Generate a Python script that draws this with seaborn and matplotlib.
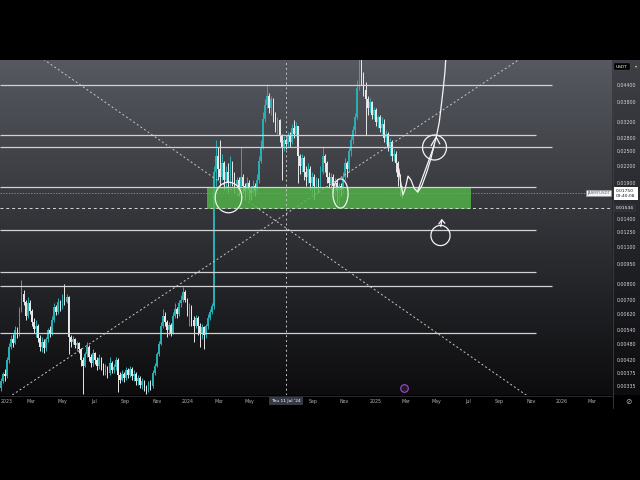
import numpy as np
import matplotlib
matplotlib.use("Agg")
import matplotlib.pyplot as plt
import matplotlib.dates as mdates
from matplotlib.path import Path
from matplotlib.ticker import FixedLocator, FuncFormatter, NullLocator
import seaborn as sns

sns.set_theme(style="dark")
plt.rcParams["font.family"] = ["DejaVu Sans"]

# ---------------- JASMY/USDT, 4-day candles from 2023-01-01 ----------------
START = np.datetime64("2023-01-01")
STEP_DAYS = 4
UNIT = 1e-5          # candle prices below are in 1e-5 USDT
first_open = 330

close = [
    350, 372, 365, 420, 470, 500, 485, 540, 520, 640,
    740, 690, 610, 680, 640, 580, 545, 560, 505, 470,
    490, 465, 500, 540, 525, 590, 660, 630, 690, 660,
    720, 690, 720, 510, 490, 500, 475, 485, 460, 420,
    400, 440, 470, 430, 410, 445, 420, 400, 425, 405,
    380, 395, 375, 410, 385, 395, 420, 370, 355, 372,
    360, 385, 370, 390, 365, 372, 350, 360, 340, 350,
    332, 325, 345, 335, 375, 400, 440, 480, 560, 610,
    580, 540, 565, 530, 610, 650, 620, 680, 700, 750,
    700, 640, 660, 590, 560, 600, 560, 530, 555, 520,
    560, 600, 630, 665, 2100, 2400, 2150, 2000, 2250, 1950,
    2100, 1900, 2200, 2000, 1850, 1950, 1800, 2000, 1850, 1780,
    1900, 1800, 1750, 1850, 1780, 1950, 2300, 2600, 3300, 3700,
    4000, 3600, 3900, 3400, 3100, 3250, 2850, 2600, 2750, 2650,
    2850, 2700, 3050, 2900, 3100, 2400, 2200, 2350, 2100, 2000,
    2150, 1900, 2000, 1850, 1950, 1850, 2100, 2400, 2250, 2000,
    1900, 2000, 1850, 1900, 1780, 1850, 1800, 2000, 2250, 2150,
    2500, 2750, 3000, 3350, 4300, 5200, 4700, 4200, 3900, 3600,
    3800, 3400, 3550, 3200, 3350, 3050, 3150, 2800, 2900, 2600,
    2700, 2400, 2450, 2250, 2000, 1800, 1750,
]
high = [
    360, 380, 390, 430, 485, 520, 525, 560, 555, 660,
    830, 760, 700, 720, 700, 650, 600, 590, 570, 520,
    510, 500, 510, 550, 560, 610, 680, 670, 710, 700,
    740, 800, 740, 725, 520, 515, 505, 495, 490, 465,
    430, 450, 490, 475, 440, 460, 450, 430, 440, 430,
    410, 405, 400, 430, 415, 405, 430, 425, 380, 385,
    378, 395, 392, 400, 395, 385, 378, 370, 365, 360,
    355, 340, 352, 355, 385, 410, 450, 495, 580, 650,
    630, 590, 580, 575, 630, 680, 660, 700, 730, 780,
    760, 710, 680, 670, 610, 615, 610, 575, 570, 560,
    570, 620, 650, 680, 2200, 2750, 2600, 2750, 2450, 2300,
    2200, 2250, 2400, 2300, 2100, 2000, 2000, 2600, 2050, 1900,
    2000, 1950, 1850, 1950, 1900, 2050, 2400, 2750, 3500, 3900,
    4450, 4100, 4000, 3950, 3500, 3350, 3300, 2900, 2850, 2800,
    2950, 2950, 3150, 3250, 3200, 3100, 2450, 2450, 2400, 2200,
    2250, 2200, 2100, 2050, 2000, 1980, 2200, 2600, 2450, 2300,
    2100, 2080, 2050, 1980, 1950, 1900, 1900, 2100, 2350, 2300,
    2600, 2850, 3100, 3450, 4600, 5600, 5600, 4900, 4500, 4000,
    3950, 3850, 3650, 3600, 3400, 3400, 3350, 3300, 3000, 2950,
    2800, 2750, 2550, 2500, 2300, 2050, 1850,
]
low = [
    322, 345, 352, 360, 410, 460, 470, 480, 505, 515,
    630, 670, 590, 600, 620, 560, 530, 510, 490, 455,
    450, 445, 455, 490, 510, 520, 580, 615, 620, 640,
    650, 670, 680, 440, 470, 480, 465, 455, 445, 400,
    315, 395, 430, 415, 395, 400, 405, 385, 390, 385,
    370, 370, 360, 370, 375, 375, 385, 320, 345, 350,
    348, 355, 360, 362, 355, 352, 340, 338, 330, 328,
    322, 313, 318, 325, 330, 370, 395, 435, 475, 550,
    560, 510, 520, 515, 525, 600, 600, 610, 660, 690,
    690, 610, 560, 560, 490, 550, 520, 470, 500, 460,
    505, 545, 590, 620, 650, 1850, 1950, 1850, 1950, 1800,
    1800, 1750, 1850, 1850, 1750, 1700, 1700, 1780, 1750, 1680,
    1720, 1650, 1640, 1700, 1700, 1750, 1900, 2250, 2550, 3200,
    3600, 3450, 3400, 3200, 2950, 2900, 2700, 1950, 2500, 2550,
    2600, 2600, 2650, 2800, 2850, 1900, 2050, 2100, 1950, 1850,
    1900, 1800, 1700, 1650, 1800, 1750, 1820, 2050, 2100, 1900,
    1820, 1800, 1750, 1700, 1600, 1560, 1700, 1750, 1950, 2000,
    2100, 2400, 2650, 2900, 3300, 4200, 4400, 4000, 2870, 3400,
    3500, 3300, 3300, 3100, 3050, 2950, 2900, 2700, 2650, 2500,
    2400, 2300, 2300, 2100, 1850, 1700, 1680,
]
assert len(close) == len(high) == len(low)

# price scale ticks (USDT)
price_ticks = [0.044, 0.038, 0.032, 0.028, 0.025, 0.022, 0.019, 0.014, 0.0125,
               0.011, 0.0095, 0.008, 0.007, 0.0062, 0.0054, 0.0048, 0.0042,
               0.00375, 0.00335]
last_price = 0.01750
cursor_price = 0.01534
cursor_date = "2024-07-11"

# time axis labels
time_ticks = ["2023-01-01", "2023-03-01", "2023-05-01", "2023-07-01", "2023-09-01",
              "2023-11-01", "2024-01-01", "2024-03-01", "2024-05-01", "2024-09-01",
              "2024-11-01", "2025-01-01", "2025-03-01", "2025-05-01", "2025-07-01",
              "2025-09-01", "2025-11-01", "2026-01-01", "2026-03-01"]
time_labels = ["2023", "Mar", "May", "Jul", "Sep", "Nov", "2024", "Mar", "May",
               "Sep", "Nov", "2025", "Mar", "May", "Jul", "Sep", "Nov", "2026", "Mar"]

# horizontal levels and the date each ray ends
level_prices = [0.0440, 0.0287, 0.0258, 0.0184, 0.0127, 0.0089, 0.0079, 0.0053]
level_ends = ["2025-12-12", "2025-11-11", "2025-12-12", "2025-11-11",
              "2025-11-11", "2025-11-11", "2025-12-12", "2025-11-11"]

# support zone
zone_dates = ["2024-02-07", "2025-07-07"]
zone_prices = [0.0153, 0.0184]

# crossing trend lines (date, price) end points
trend_down = (["2023-03-18", "2025-10-29"], [0.0560, 0.00305])
trend_up = (["2023-01-16", "2025-10-17"], [0.00305, 0.0560])

# hand-drawn path: days after 2023-01-01, price
wave_days = [777, 781, 785, 789, 795, 801, 807, 814, 822, 832, 840, 846, 850]
wave_price = [0.0215, 0.0190, 0.0172, 0.0180, 0.0202, 0.0195, 0.0182, 0.0176,
              0.0186, 0.0210, 0.0236, 0.0264, 0.0280]
shaft_days = [814, 846]
shaft_price = [0.0178, 0.0262]
head_days = [840, 850, 857]
head_price = [0.0262, 0.0282, 0.0266]
rocket_days = [850, 856, 860, 864, 867, 869]
rocket_price = [0.0280, 0.0320, 0.0370, 0.0430, 0.0490, 0.0560]
small_head_days = [855, 861, 867]
small_head_price = [0.01342, 0.01390, 0.01350]
small_shaft_days = [861, 859]
small_shaft_price = [0.01390, 0.01310]
# loops: day, price, width/height ratio, size (pt)
loops = [(443, 0.01689, 0.87, 22), (662, 0.01754, 0.52, 21),
         (846, 0.02590, 0.96, 18), (857, 0.01221, 0.95, 14.5)]

# ---------------------------------------------------------------------------
t0 = mdates.date2num(START)


def dnum(s):
    return mdates.date2num(np.datetime64(s))


n = len(close)
x = t0 + STEP_DAYS * np.arange(n)
c = np.array(close) * UNIT
h = np.array(high) * UNIT
l = np.array(low) * UNIT
o = np.concatenate([[first_open * UNIT], c[:-1]])
UP, DOWN = "#26b0b4", "#e8e8e8"
cols = np.where(c >= o, UP, DOWN)

fig = plt.figure(figsize=(6.4, 4.8), dpi=100, facecolor="black")

# gradient backdrop for the chart pane and the price scale
H_PX, W_PX, SPLIT = 335, 640, 612
tt = np.linspace(0, 1, H_PX)[:, None]
chart_col = (np.array([86, 89, 96]) * (1 - tt) + np.array([12, 12, 14]) * tt) / 255
panel_col = (np.array([62, 64, 70]) * (1 - tt) + np.array([12, 12, 14]) * tt) / 255
img = np.empty((H_PX, W_PX, 3))
img[:, :SPLIT] = chart_col[:, None, :]
img[:, SPLIT:] = panel_col[:, None, :]
bg = fig.add_axes([0, 1 - 395 / 480, 1, 335 / 480], zorder=0)
bg.imshow(img, aspect="auto", extent=(0, 1, 0, 1), interpolation="bilinear")
bg.set_axis_off()

ax = fig.add_axes([0, 1 - 395 / 480, SPLIT / 640, 335 / 480], zorder=1)
ax.set_facecolor("none")
ax.set_yscale("log")
x_lo, x_hi = t0 - 1.95, t0 + 1193.4
ax.set_xlim(x_lo, x_hi)
ax.set_ylim(0.003111, 0.05448)
ax.grid(False)
for sp in ax.spines.values():
    sp.set_visible(False)

# candles
ax.vlines(x, l, h, colors=cols, lw=0.7, zorder=3)
ax.bar(x, np.abs(c - o), bottom=np.minimum(o, c), width=3.3, color=cols,
       linewidth=0, zorder=3)

# last price and cursor lines
ax.axhline(last_price, color="#a0a0a0", lw=0.5, ls=(0, (2, 2)), zorder=2)
ax.axhline(cursor_price, color="#d6d6d6", lw=0.7, ls=(0, (3, 3)), zorder=8)
ax.axvline(dnum(cursor_date), color="#c4c4c4", lw=0.7, ls=(0, (2, 3)), zorder=8)

# trend lines
for dates, prices in (trend_down, trend_up):
    ax.plot([dnum(d) for d in dates], prices, color="#c8c8c8", lw=0.7,
            ls=(0, (2, 2.5)), zorder=4)

# support zone
ax.fill_between([dnum(d) for d in zone_dates], zone_prices[0], zone_prices[1],
                color="#52b548", alpha=0.82, lw=0, zorder=5)

# levels
ax.hlines(level_prices, x_lo, [dnum(d) for d in level_ends], colors="#d2d2d2",
          lw=0.9, zorder=6)

# hand-drawn marks
pen = dict(color="#f4f4f4", lw=0.9, sort=False, estimator=None, ax=ax,
           zorder=7, legend=False)
for dd, pp in ((wave_days, wave_price), (shaft_days, shaft_price),
               (head_days, head_price), (rocket_days, rocket_price),
               (small_head_days, small_head_price),
               (small_shaft_days, small_shaft_price)):
    sns.lineplot(x=t0 + np.array(dd), y=pp, **pen)


def loop_marker(ratio):
    a = np.linspace(0, 2 * np.pi, 64)
    return Path(np.column_stack([ratio * np.cos(a), np.sin(a)]))


for dd, pp, ratio, size in loops:
    ax.plot(t0 + dd, pp, marker=loop_marker(ratio), ms=size, mfc="none",
            mec="#f4f4f4", mew=0.9, ls="none", zorder=7)

# event marker near the time axis
ax.plot(t0 + 787, 0.0033, marker="o", ms=5.5, mfc="#241630", mec="#9b4dca",
        mew=0.8, zorder=9, clip_on=False)

# axes ticks
ax.yaxis.tick_right()
ax.yaxis.set_major_locator(FixedLocator(price_ticks))
ax.yaxis.set_minor_locator(NullLocator())
ax.yaxis.set_major_formatter(FuncFormatter(lambda v, _: f"{v:.5f}"))
ax.set_xticks([dnum(d) for d in time_ticks])
ax.set_xticklabels(time_labels)
ax.tick_params(axis="y", which="both", length=0, pad=3.6, labelsize=3.4,
               labelcolor="#d1d4dc")
ax.tick_params(axis="x", length=0, pad=3.0, labelsize=3.4, labelcolor="#b2b5be")
# the first year label sits at the left edge; keep it inside the frame
ax.get_xticklabels()[0].set_horizontalalignment("left")

# price-scale labels
ytr = ax.get_yaxis_transform()
ax.annotate("0.01750\n09:40:08", xy=(1, last_price), xycoords=ytr,
            xytext=(3.0, 2.8), textcoords="offset points", ha="left", va="top",
            fontsize=3.2, color="#131722", linespacing=1.35,
            bbox=dict(boxstyle="square,pad=0.5", fc="white", ec="none"),
            annotation_clip=False, zorder=10)
ax.annotate("JASMYUSDT", xy=(1, last_price), xycoords=ytr, xytext=(-1.5, 0),
            textcoords="offset points", ha="right", va="center", fontsize=2.9,
            color="#5d606b",
            bbox=dict(boxstyle="square,pad=0.3", fc="#f2f3f5", ec="#9598a1", lw=0.4),
            annotation_clip=False, zorder=10)
ax.annotate("0.01534", xy=(1, cursor_price), xycoords=ytr, xytext=(3.0, 0),
            textcoords="offset points", ha="left", va="center", fontsize=3.2,
            color="white",
            bbox=dict(boxstyle="square,pad=0.45", fc="#2e3139", ec="none"),
            annotation_clip=False, zorder=10)
ax.annotate("Thu 11 Jul '24", xy=(dnum(cursor_date), 0),
            xycoords=ax.get_xaxis_transform(), xytext=(0, -4.4),
            textcoords="offset points", ha="center", va="center", fontsize=3.2,
            color="white",
            bbox=dict(boxstyle="square,pad=0.5", fc="#363a45", ec="none"),
            annotation_clip=False, zorder=10)

# frame details
fig.add_artist(plt.Line2D([612.5 / 640] * 2, [1 - 60 / 480, 1 - 408 / 480],
                          color="#3c3e44", lw=0.6))
fig.add_artist(plt.Line2D([0, 612 / 640], [1 - 395.5 / 480] * 2,
                          color="#2e3035", lw=0.6))
fig.text(616 / 640, 1 - 66.5 / 480, "USDT", fontsize=3.2, color="white",
         ha="left", va="center",
         bbox=dict(boxstyle="square,pad=0.4", fc="black", ec="#4a4a4a", lw=0.3))
fig.text(636 / 640, 1 - 66.5 / 480, "▾", fontsize=3.2, color="#cfcfcf",
         ha="center", va="center")
fig.text(628 / 640, 1 - 401 / 480, "⊘", fontsize=5.5, color="#b2b5be",
         ha="center", va="center")

fig.savefig("out.png", dpi=100, facecolor="black")
